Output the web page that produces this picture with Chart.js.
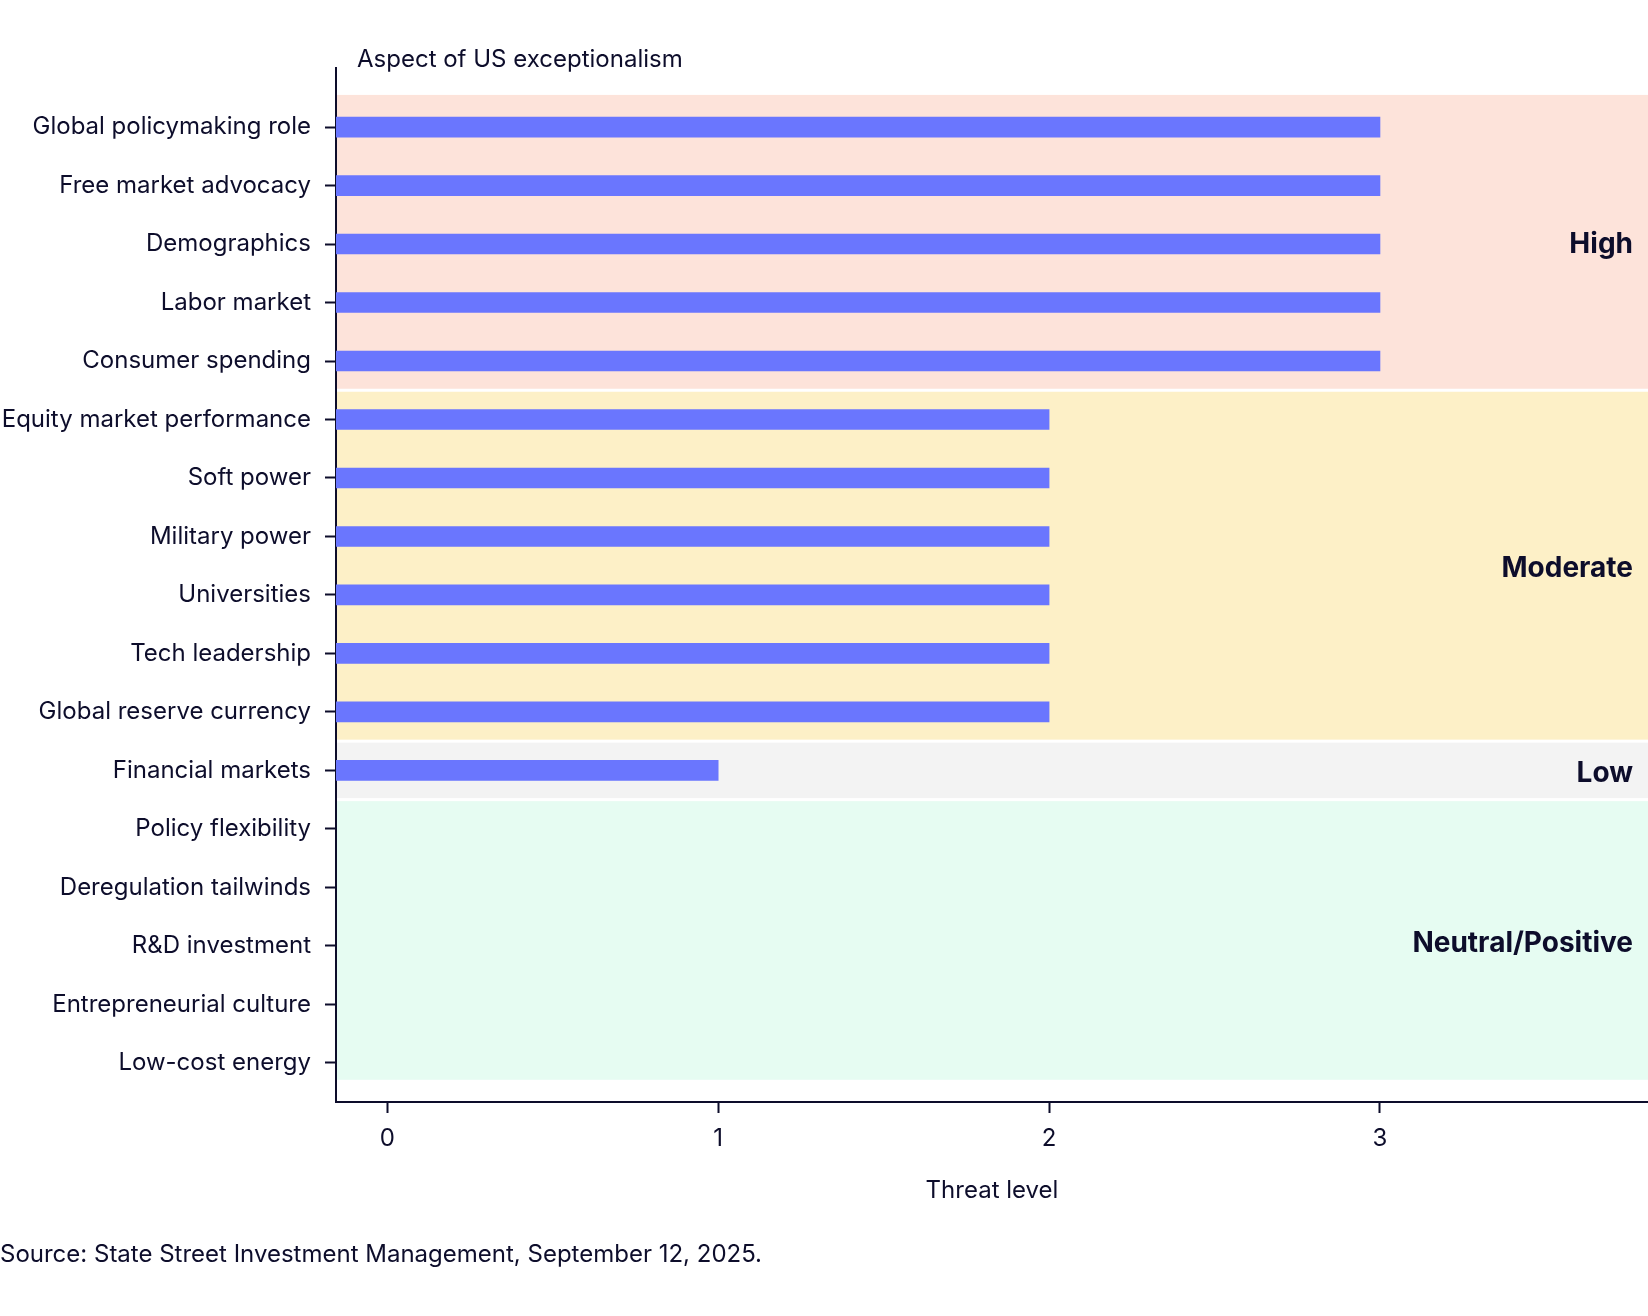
<!DOCTYPE html>
<html>
<head>
<meta charset="utf-8">
<script src="https://cdn.jsdelivr.net/npm/chart.js@4.4.0/dist/chart.umd.min.js"></script>
<style>
  body { margin: 0; background: #fff; }
  #wrap { width: 1648px; height: 1316px; }
</style>
</head>
<body>
<div id="wrap"><canvas id="threatChart" width="1648" height="1316"></canvas></div>
<script>
// categories, top to bottom
var aspects = [
    'Global policymaking role', 'Free market advocacy', 'Demographics', 'Labor market',
    'Consumer spending', 'Equity market performance', 'Soft power', 'Military power',
    'Universities', 'Tech leadership', 'Global reserve currency', 'Financial markets',
    'Policy flexibility', 'Deregulation tailwinds', 'R&D investment',
    'Entrepreneurial culture', 'Low-cost energy'
];
var threatLevel = [3, 3, 3, 3, 3, 2, 2, 2, 2, 2, 2, 1, 0, 0, 0, 0, 0];
var xTicks = [0, 1, 2, 3];

// threat bands, as first/last category index
var bandNames = ['High', 'Moderate', 'Low', 'Neutral/Positive'];
var bandFirst = [0, 5, 11, 12];
var bandLast = [4, 10, 11, 16];
var bandColors = ['#fde3da', '#fdf0c7', '#f3f3f3', '#e6fcf2'];

var xMin = -0.155, xMax = 3.81;
var ink = '#0d0d2b';
var barColor = '#6a76fe';

Chart.defaults.font.family = 'Inter';

// bars start at the left edge of the plot, zero values get no bar
var barData = [];
threatLevel.forEach(function(v, i) {
    if (v > 0) barData.push({ x: [xMin, v], y: i });
});

var bandsPlugin = {
    id: 'bands',
    beforeDatasetsDraw: function(chart) {
        var ctx = chart.ctx, area = chart.chartArea, y = chart.scales.y;
        ctx.save();
        for (var i = 0; i < bandNames.length; i++) {
            var top = y.getPixelForValue(bandFirst[i] - 0.5) + 1.5;
            var bot = y.getPixelForValue(bandLast[i] + 0.5) - 1.5;
            if (i === 0) top = y.getPixelForValue(bandFirst[i] - 0.55);
            if (i === bandNames.length - 1) bot = y.getPixelForValue(bandLast[i] + 0.29);
            ctx.fillStyle = bandColors[i];
            ctx.fillRect(area.left + 1, top, area.right - area.left, bot - top);
            ctx.fillStyle = ink;
            ctx.font = 'bold 28px Inter';
            ctx.textAlign = 'right';
            ctx.textBaseline = 'middle';
            ctx.fillText(bandNames[i], area.right - 15, (top + bot) / 2 + 3);
        }
        ctx.restore();
    },
    afterDraw: function(chart) {
        var ctx = chart.ctx, area = chart.chartArea;
        ctx.save();
        ctx.fillStyle = ink;
        ctx.font = '24px Inter';
        ctx.textAlign = 'left';
        ctx.textBaseline = 'middle';
        ctx.fillText('Aspect of US exceptionalism', area.left + 21, area.top - 8);
        ctx.fillText('Source: State Street Investment Management, September 12, 2025.', 0, 1255);
        ctx.restore();
    }
};

var ctx = document.getElementById('threatChart').getContext('2d');
var threatChart = new Chart(ctx, {
    type: 'bar',
    data: {
        datasets: [{
            label: 'Threat level',
            data: barData,
            backgroundColor: barColor,
            borderWidth: 0,
            barThickness: 20
        }]
    },
    options: {
        indexAxis: 'y',
        responsive: false,
        animation: false,
        layout: { padding: { top: 68, right: 0, bottom: 0, left: 0 } },
        plugins: {
            legend: { display: false },
            tooltip: { enabled: false }
        },
        scales: {
            y: {
                type: 'linear',
                reverse: true,
                offset: false,
                min: -1.01,
                max: 16.67,
                afterBuildTicks: function(s) {
                    s.ticks = aspects.map(function(_, i) { return { value: i }; });
                },
                afterFit: function(s) { s.width = 336; },
                ticks: {
                    autoSkip: false,
                    color: ink,
                    padding: 14,
                    font: { size: 24 },
                    callback: function(v) { return aspects[v]; }
                },
                grid: { offset: false, drawOnChartArea: false, tickLength: 11, tickColor: ink, tickWidth: 2 },
                border: { color: ink, width: 2 }
            },
            x: {
                type: 'linear',
                min: xMin,
                max: xMax,
                afterBuildTicks: function(s) {
                    s.ticks = xTicks.map(function(v) { return { value: v }; });
                },
                afterFit: function(s) { s.height = 214; },
                ticks: { color: ink, padding: 11, font: { size: 24 } },
                grid: { drawOnChartArea: false, tickLength: 11, tickColor: ink, tickWidth: 2 },
                border: { color: ink, width: 2 },
                title: {
                    display: true,
                    text: 'Threat level',
                    color: ink,
                    font: { size: 24 },
                    padding: { top: 0, bottom: 111 }
                }
            }
        }
    },
    plugins: [bandsPlugin]
});
</script>
</body>
</html>
